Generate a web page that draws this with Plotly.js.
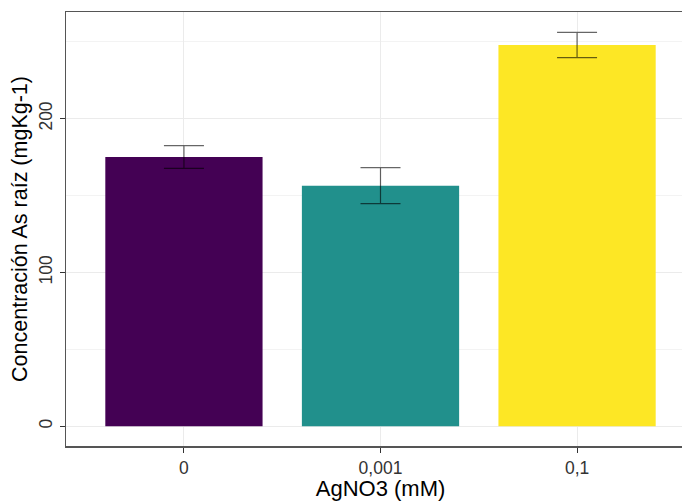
<!DOCTYPE html>
<html>
<head>
<meta charset="utf-8">
<script src="https://cdn.plot.ly/plotly-3.0.1.min.js"></script>
<style>
html, body { margin: 0; padding: 0; overflow: hidden; background: #fff; }
#chart { width: 700px; height: 501px; }
</style>
</head>
<body>
<div id="chart"></div>
<script>
var categories = ["0", "0,001", "0,1"];
var meanValues = [175.1, 156.4, 247.8];
var errorValues = [7.4, 11.7, 8.2];
var barColors = ["#440154", "#21908C", "#FDE725"];
var yTickValues = [0, 100, 200];
var yTickLabels = ["0", "100", "200"];

var trace = {
  type: "bar",
  x: categories,
  y: meanValues,
  width: 0.8,
  marker: { color: barColors, line: { width: 0 } },
  error_y: {
    type: "data",
    array: errorValues,
    visible: true,
    color: "rgba(0,0,0,0.6)",
    thickness: 1.2,
    width: 20
  },
  hoverinfo: "x+y"
};

var layout = {
  width: 700,
  height: 501,
  margin: { l: 66, r: 5, t: 12, b: 55 },
  paper_bgcolor: "#ffffff",
  plot_bgcolor: "#ffffff",
  showlegend: false,
  font: { family: "Liberation Sans, Arial, sans-serif", color: "#000" },
  xaxis: {
    type: "category",
    range: [-0.6, 2.6],
    showgrid: true,
    gridcolor: "#ebebeb",
    gridwidth: 1,
    showline: true,
    mirror: true,
    linecolor: "#555555",
    linewidth: 1.5,
    ticks: "outside",
    ticklen: 5,
    tickwidth: 1,
    tickcolor: "#333333",
    tickfont: { size: 17.5, color: "#333333" },
    title: { text: "AgNO3 (mM)", font: { size: 22, color: "#000" }, standoff: 4 },
    zeroline: false,
    fixedrange: true
  },
  yaxis: {
    range: [-12.8, 269.3],
    tickvals: yTickValues,
    ticktext: yTickLabels,
    tickangle: -90,
    ticklabelstandoff: 1,
    showgrid: true,
    gridcolor: "#ebebeb",
    gridwidth: 1,
    minor: { dtick: 50, tick0: 0, showgrid: true, gridcolor: "#f3f3f3", gridwidth: 1, ticks: "" },
    showline: true,
    mirror: true,
    linecolor: "#555555",
    linewidth: 1.5,
    ticks: "outside",
    ticklen: 5,
    tickwidth: 1,
    tickcolor: "#333333",
    tickfont: { size: 17.5, color: "#333333" },
    title: { text: "Concentración As raíz (mgKg-1)", font: { size: 21.5, color: "#000" }, standoff: 2 },
    zeroline: false,
    fixedrange: true
  }
};

Plotly.newPlot("chart", [trace], layout, { displayModeBar: false, staticPlot: true });
</script>
</body>
</html>
